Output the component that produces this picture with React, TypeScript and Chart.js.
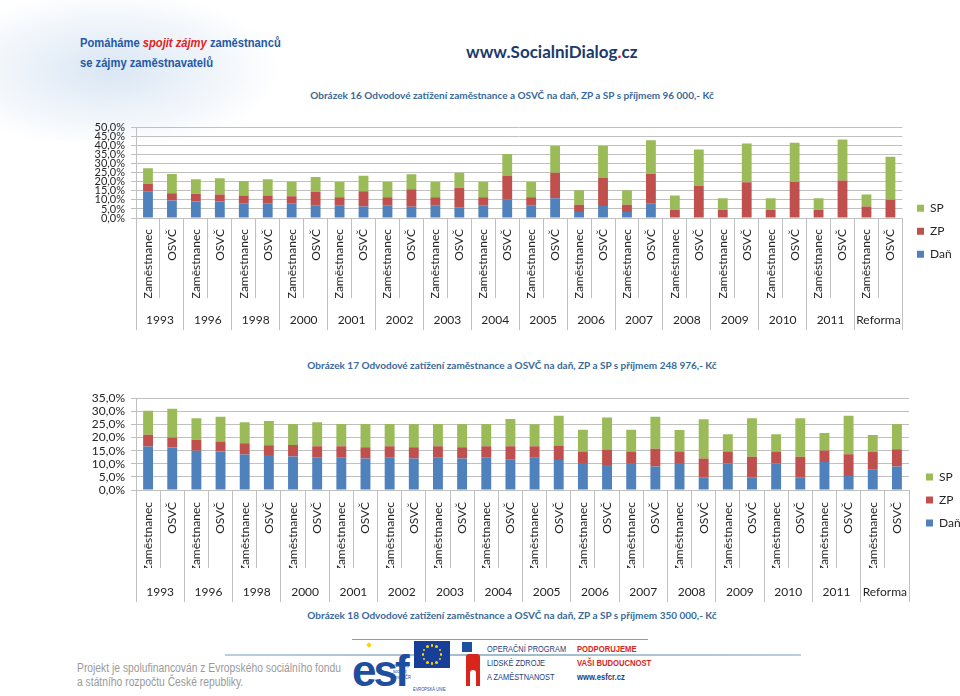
import React, { useEffect, useRef } from 'react';
import { Chart, registerables } from 'chart.js';

Chart.register(...registerables);

// ---- data ----
const groups = ['1993', '1996', '1998', '2000', '2001', '2002', '2003', '2004', '2005', '2006', '2007', '2008', '2009', '2010', '2011', 'Reforma'];
const kinds = ['Zaměstnanec', 'OSVČ'];
const categories = groups.flatMap(() => kinds);

// Obrázek 16 – příjem 96 000 Kč (segment values, %)
const dan16 = [14.6, 9.7, 9.2, 9.2, 8.2, 8.2, 8.1, 7.0, 7.0, 6.4, 7.0, 6.2, 7.0, 6.0, 7.0, 10.1, 7.0, 11.0, 3.3, 6.6, 3.3, 7.9, 0, 0, 0, 0, 0, 0, 0, 0, 0, 0];
const zp16 = [4.3, 4.0, 4.2, 3.8, 4.3, 4.3, 4.0, 7.5, 4.5, 8.4, 4.5, 9.7, 4.5, 10.7, 4.5, 13.2, 4.5, 14.1, 4.0, 15.6, 4.0, 16.6, 4.6, 17.9, 4.6, 19.8, 4.6, 20.0, 4.6, 20.7, 6.4, 10.1];
const sp16 = [8.6, 10.7, 8.0, 9.0, 8.0, 8.9, 8.0, 8.2, 8.5, 8.6, 8.5, 8.3, 8.5, 8.4, 8.5, 12.2, 8.5, 14.8, 8.1, 17.7, 8.1, 18.5, 7.9, 20.0, 6.4, 21.4, 6.4, 21.6, 6.4, 22.7, 6.6, 23.8];

// Obrázek 17 – příjem 248 976 Kč (segment values, %)
const dan17 = [16.6, 16.2, 15.0, 14.7, 13.5, 13.3, 12.8, 12.5, 12.3, 12.0, 12.3, 12.0, 12.3, 12.0, 12.3, 11.5, 12.3, 11.4, 10.3, 9.5, 10.3, 9.0, 10.3, 4.9, 10.1, 4.9, 10.1, 4.9, 10.7, 5.3, 7.7, 9.0];
const zp17 = [4.5, 3.8, 4.2, 3.8, 4.3, 3.8, 4.4, 4.2, 4.4, 4.3, 4.4, 4.3, 4.4, 4.3, 4.4, 5.2, 4.4, 5.6, 4.4, 5.9, 4.4, 6.7, 4.4, 7.1, 4.6, 7.8, 4.6, 7.8, 4.4, 8.3, 6.8, 6.5];
const sp17 = [9.1, 11.0, 8.2, 9.4, 8.0, 9.2, 8.0, 9.1, 8.5, 8.9, 8.5, 8.9, 8.5, 8.9, 8.5, 10.4, 8.4, 11.3, 8.3, 12.2, 8.3, 12.2, 8.2, 15.0, 6.6, 14.7, 6.6, 14.7, 6.6, 14.7, 6.5, 9.7];

const seriesNames = ['Daň', 'ZP', 'SP'];
const seriesColors = ['#4F81BD', '#C0504D', '#9BBB59'];

const GRID = '#c0c0c0';
const TXT = '#262626';
const FONT = 'Lato, "Open Sans", sans-serif';

type P = {
  dan: number[]; zp: number[]; sp: number[];
  yMax: number; yFont: number; padTop: number;
  xTL: number; xPad: number; x2TL: number; x2Pad: number; x2H: number;
  dummyW: number; legendW: number;
};

function StackChart(p: P & { top: number; height: number }) {
  const ref = useRef<HTMLCanvasElement | null>(null);
  useEffect(() => {
    if (!ref.current) return;
    const values = [p.dan, p.zp, p.sp];
    const chart = new Chart(ref.current, {
      type: 'bar',
      data: {
        labels: categories,
        datasets: seriesNames.map((n, i) => ({
          label: n,
          data: values[i],
          backgroundColor: seriesColors[i],
          borderWidth: 0,
          xAxisID: 'x',
          yAxisID: 'y',
        })),
      },
      options: {
        responsive: false,
        animation: false,
        layout: { padding: { left: 76, top: p.padTop, right: 0, bottom: 0 } },
        datasets: { bar: { barPercentage: 0.41, categoryPercentage: 1 } },
        plugins: {
          legend: {
            position: 'right',
            reverse: true,
            maxWidth: p.legendW,
            labels: { boxWidth: 7, boxHeight: 7, padding: 11, color: TXT, font: { family: FONT, size: 12 } },
          },
          tooltip: { enabled: false },
        },
        scales: {
          x: {
            stacked: true,
            offset: true,
            grid: { offset: true, drawOnChartArea: false, tickLength: p.xTL, color: GRID },
            border: { display: true, color: GRID },
            ticks: {
              autoSkip: false, minRotation: 90, maxRotation: 90, padding: p.xPad,
              color: TXT, font: { family: FONT, size: 12 },
            },
            afterFit: (s: any) => { s.height = p.xTL; },
          },
          x2: {
            type: 'category',
            position: 'bottom',
            labels: groups,
            offset: true,
            grid: { offset: true, drawOnChartArea: false, tickLength: p.x2TL, color: GRID },
            border: { display: false },
            ticks: {
              autoSkip: false, minRotation: 0, maxRotation: 0, padding: p.x2Pad,
              color: TXT, font: { family: FONT, size: 12 },
            },
            afterFit: (s: any) => { s.height = p.x2H; },
          },
          y: {
            stacked: true,
            min: 0,
            max: p.yMax,
            grid: { color: GRID, tickLength: 5 },
            border: { color: GRID },
            ticks: {
              stepSize: 5, autoSkip: false, padding: 6, color: TXT,
              font: { family: FONT, size: p.yFont },
              callback: (v: any) => Number(v).toFixed(1).replace('.', ',') + '%',
            },
            afterFit: (s: any) => { s.width = 60; },
          },
          yr: {
            type: 'linear',
            position: 'right',
            display: true,
            grid: { display: false },
            ticks: { display: false },
            border: { display: false },
            afterFit: (s: any) => { s.width = p.dummyW; },
          },
        },
      } as any,
    });
    return () => chart.destroy();
  }, []);
  return (
    <canvas
      ref={ref}
      width={960}
      height={p.height}
      style={{ position: 'absolute', left: 0, top: p.top, width: 960, height: p.height }}
    />
  );
}

const ARIAL = '"Liberation Sans", Arial, sans-serif';

function Narrow(props: { left: number; top: number; size: number; color: string; bold?: boolean; scale?: number; lh?: number; children: React.ReactNode }) {
  return (
    <div style={{
      position: 'absolute', left: props.left, top: props.top, fontFamily: ARIAL,
      fontSize: props.size, fontWeight: props.bold ? 700 : 400, color: props.color,
      whiteSpace: 'nowrap', transform: `scaleX(${props.scale ?? 0.8})`, transformOrigin: '0 0',
      lineHeight: props.lh ? props.lh + 'px' : 'normal',
    }}>
      {props.children}
    </div>
  );
}

function EuFlag() {
  const stars = Array.from({ length: 12 }, (_, i) => i);
  return (
    <div style={{ position: 'absolute', left: 414, top: 641, width: 36, height: 27, background: '#173f98' }}>
      {stars.map((i) => {
        const a = (i / 12) * Math.PI * 2;
        return (
          <div key={i} style={{
            position: 'absolute', width: 2.5, height: 2.5, borderRadius: 2, background: '#ffd400',
            left: 18 + Math.cos(a) * 9 - 1.25, top: 13.5 + Math.sin(a) * 9 - 1.25,
          }} />
        );
      })}
    </div>
  );
}

export default function App() {
  const subStyle: React.CSSProperties = {
    position: 'absolute', left: 112, width: 800, textAlign: 'center', whiteSpace: 'nowrap',
    fontFamily: FONT, fontWeight: 700, fontSize: 10, color: '#3a6a9a',
  };
  return (
    <div style={{
      position: 'absolute', left: 0, top: 0, width: 960, height: 696, overflow: 'hidden', background: '#fff',
    }}>
      <div style={{
        position: 'absolute', left: 0, top: 0, width: 320, height: 140,
        background: 'radial-gradient(ellipse 170px 80px at 110px 70px, rgba(205,222,240,0.75), rgba(255,255,255,0))',
      }} />
      <Narrow left={80} top={35} size={13} bold color="#2459a8" scale={0.86}>
        Pomáháme <span style={{ color: '#e2231a', fontStyle: 'italic' }}>spojit zájmy</span> zaměstnanců
      </Narrow>
      <Narrow left={80} top={55} size={13} bold color="#2459a8" scale={0.86}>se zájmy zaměstnavatelů</Narrow>
      <div style={{ position: 'absolute', left: 466, top: 41, fontFamily: FONT, fontWeight: 700, fontSize: 17, color: '#1b3a6b', whiteSpace: 'nowrap' }}>
        www.SocialniDialog<span style={{ color: '#e2231a' }}>.</span>cz
      </div>

      <div style={{ ...subStyle, top: 89 }}>Obrázek 16 Odvodové zatížení zaměstnance a OSVČ na daň, ZP a SP s příjmem 96 000,- Kč</div>
      <StackChart top={115} height={220} dan={dan16} zp={zp16} sp={sp16} yMax={50} yFont={11} padTop={12.7}
        xTL={80} xPad={-69} x2TL={32} x2Pad={-17} x2H={37} dummyW={3.6} legendW={54} />

      <div style={{ ...subStyle, top: 359 }}>Obrázek 17 Odvodové zatížení zaměstnance a OSVČ na daň, ZP a SP s příjmem 248 976,- Kč</div>
      <StackChart top={385} height={220} dan={dan17} zp={zp17} sp={sp17} yMax={35} yFont={12} padTop={10}
        xTL={78} xPad={-66} x2TL={34} x2Pad={-16.6} x2H={37} dummyW={6} legendW={45} />

      <div style={{ ...subStyle, top: 609 }}>Obrázek 18 Odvodové zatížení zaměstnance a OSVČ na daň, ZP a SP s příjmem 350 000,- Kč</div>

      <div style={{
        position: 'absolute', left: 225, top: 654, width: 576, height: 2,
        background: 'linear-gradient(90deg, #b9cfdc, #9fbccc 50%, #b9cfdc)',
      }} />
      <Narrow left={77} top={661} size={12} color="#9a9a9a" scale={0.86} lh={14}>
        Projekt je spolufinancován z Evropského sociálního fondu<br />a státního rozpočtu České republiky.
      </Narrow>

      <div style={{ position: 'absolute', left: 352, top: 639, width: 296, height: 1, background: '#9a9a9a' }} />
      <div style={{ position: 'absolute', left: 352, top: 650, fontFamily: ARIAL, fontWeight: 700, fontSize: 44, lineHeight: '42px', color: '#1e4f9e', letterSpacing: -3 }}>esf</div>
      <div style={{ position: 'absolute', left: 367, top: 643, width: 4, height: 4, background: '#ffd400', borderRadius: 1, transform: 'rotate(45deg)' }} />
      <Narrow left={393} top={662} size={5} color="#1e4f9e" lh={6}>
        evropský<br />sociální<br />fond v ČR
      </Narrow>
      <EuFlag />
      <Narrow left={413} top={686} size={5} color="#1e4f9e">EVROPSKÁ UNIE</Narrow>

      <div style={{ position: 'absolute', left: 462, top: 642, width: 10, height: 10, background: '#1e4f9e' }} />
      <div style={{ position: 'absolute', left: 466, top: 654, width: 14, height: 32, background: '#d8261c', borderRadius: '3px 3px 0 0' }} />
      <div style={{ position: 'absolute', left: 470, top: 670, width: 6, height: 16, background: '#fff', borderRadius: '3px 3px 0 0' }} />
      <Narrow left={487} top={642} size={9.5} color="#1e3e7a" lh={14} scale={0.78}>
        OPERAČNÍ PROGRAM<br />LIDSKÉ ZDROJE<br />A ZAMĚSTNANOST
      </Narrow>
      <Narrow left={577} top={642} size={9} bold color="#d8261c" lh={14} scale={0.85}>
        PODPORUJEME<br />VAŠI BUDOUCNOST<br /><span style={{ color: '#1e3e7a' }}>www.esfcr.cz</span>
      </Narrow>
    </div>
  );
}
